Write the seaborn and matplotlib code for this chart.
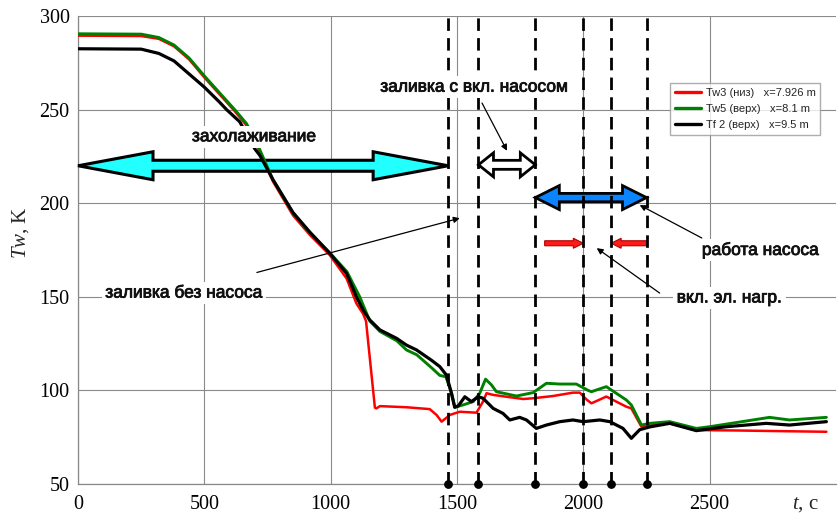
import numpy as np
import pandas as pd
import matplotlib
matplotlib.use("Agg")
import matplotlib.pyplot as plt
import matplotlib.patheffects as pe
import seaborn as sns
from matplotlib.patches import Polygon
from matplotlib.transforms import IdentityTransform
from matplotlib.lines import Line2D

# ---------------- data ----------------
t_tw3 = [0, 250, 320, 380, 440, 500, 560, 620, 667, 700, 720, 772, 851, 918, 997,
         1063, 1102, 1128, 1140, 1175, 1181, 1195, 1300, 1392, 1419, 1439, 1472,
         1511, 1577, 1603, 1617, 1643, 1696, 1762, 1801, 1880, 1959, 1986, 2012,
         2032, 2091, 2170, 2190, 2230, 2263, 2342, 2447, 2600, 2800, 2962]
tw3 = [289.5, 289.3, 287.8, 283.8, 276.8, 267.2, 258.2, 249.2, 241.5, 233.0, 227.5,
       211.5, 193.5, 183.0, 172.2, 159.8, 146.4, 141.0, 137.0, 90.8, 90.4, 91.6,
       91.0, 90.0, 86.9, 83.3, 86.9, 88.6, 88.1, 94.0, 98.5, 97.6, 96.6, 95.4,
       95.8, 97.0, 98.8, 98.8, 95.2, 93.1, 96.7, 91.3, 90.4, 80.6, 81.6, 82.4,
       78.8, 78.6, 78.2, 77.9]

t_tw5 = [0, 250, 320, 380, 440, 500, 560, 620, 667, 700, 720, 772, 851, 918, 997,
         1064, 1115, 1155, 1195, 1262, 1300, 1341, 1400, 1432, 1456, 1480, 1491,
         1523, 1564, 1590, 1613, 1636, 1656, 1735, 1801, 1854, 1907, 1972, 2019,
         2032, 2091, 2170, 2190, 2230, 2263, 2342, 2447, 2500, 2737, 2816, 2962]
tw5 = [290.5, 290.3, 288.5, 284.5, 277.5, 268.0, 259.0, 250.0, 242.5, 234.0, 228.4,
       212.4, 194.7, 184.0, 173.4, 163.5, 150.0, 137.0, 131.5, 126.5, 121.6, 119.0,
       112.0, 108.0, 107.3, 98.0, 91.0, 92.2, 94.0, 98.5, 106.0, 103.0, 99.3, 97.0,
       98.8, 103.8, 103.4, 103.4, 100.0, 99.3, 102.0, 94.9, 92.2, 81.5, 82.4, 83.3,
       79.7, 80.6, 85.6, 84.2, 85.6]

t_tf2 = [0, 250, 320, 380, 440, 500, 560, 588, 640, 700, 720, 772, 851, 918, 997,
         1063, 1102, 1128, 1155, 1195, 1261, 1300, 1340, 1400, 1432, 1458, 1475,
         1491, 1505, 1531, 1557, 1584, 1603, 1643, 1682, 1709, 1748, 1775, 1814,
         1854, 1907, 1959, 1999, 2065, 2105, 2157, 2190, 2223, 2263, 2342, 2447,
         2566, 2724, 2816, 2962]
tf2 = [282.5, 282.3, 280.0, 276.0, 269.0, 262.0, 254.0, 250.0, 243.5, 229.0, 225.5,
       212.5, 195.0, 184.5, 173.2, 162.5, 150.0, 143.0, 137.6, 132.3, 127.8, 124.2,
       121.6, 116.0, 112.7, 108.2, 100.0, 91.0, 91.7, 96.6, 94.0, 96.6, 95.8, 90.4,
       87.7, 84.2, 85.6, 84.2, 79.7, 81.5, 83.3, 84.2, 83.3, 84.2, 83.3, 79.7,
       74.4, 79.0, 80.5, 82.4, 78.5, 80.6, 82.4, 81.5, 83.3]

series_names = ["Tw3 (низ)   x=7.926 m", "Tw5 (верх)   x=8.1 m", "Tf 2 (верх)   x=9.5 m"]
series_colors = ["#ff0000", "#008000", "#000000"]
series_widths = [1.8, 2.1, 2.3]

# moments of regime changes, s
event_times = [1465, 1585, 1810, 2000, 2110, 2250]

x_ticks = [0, 500, 1000, 1500, 2000, 2500]
y_ticks = [50, 100, 150, 200, 250, 300]

# ---------------- style ----------------
sns.set_theme(style="white")
plt.rcParams["font.family"] = ["Liberation Sans", "DejaVu Sans"]
plt.rcParams["mathtext.fontset"] = "custom"
plt.rcParams["mathtext.it"] = "Liberation Serif:italic"
plt.rcParams["mathtext.rm"] = "Liberation Serif"

serif = ["Liberation Serif", "DejaVu Serif"]

fig = plt.figure(figsize=(8.38, 5.17), dpi=100)
ax = fig.add_axes([78 / 838, 1 - 484 / 517, 758 / 838, 468 / 517])
ax.set_xlim(0, 3000)
ax.set_ylim(50, 300)

frames = [
    pd.DataFrame({"t": t_tw3, "T": tw3}),
    pd.DataFrame({"t": t_tw5, "T": tw5}),
    pd.DataFrame({"t": t_tf2, "T": tf2}),
]
for df, c, w in zip(frames, series_colors, series_widths):
    sns.lineplot(data=df, x="t", y="T", color=c, linewidth=w, sort=False,
                 estimator=None, ax=ax, zorder=4)

# axes decoration
ax.set_xticks(x_ticks)
ax.set_yticks(y_ticks)
ax.set_xticks(np.arange(0, 3001, 100), minor=True)
ax.set_yticks(np.arange(50, 301, 10), minor=True)
ax.set_xticklabels([str(v) for v in x_ticks], fontfamily=serif, fontsize=14.5)
ax.set_yticklabels([str(v) for v in y_ticks], fontfamily=serif, fontsize=14.5)
ax.tick_params(which="both", direction="in", colors="#777777", labelcolor="black")
ax.tick_params(which="major", length=5, width=0.8)
ax.tick_params(which="minor", length=3, width=0.8)
ax.tick_params(axis="x", pad=8)
ax.tick_params(axis="y", pad=6)
ax.grid(True, which="major", color="#8a8a8a", linewidth=0.8)
ax.set_axisbelow(True)
for side in ["top", "right"]:
    ax.spines[side].set_visible(False)
for side in ["left", "bottom"]:
    ax.spines[side].set_color("#888888")
    ax.spines[side].set_linewidth(0.9)

ax.set_xlabel("")
ax.set_ylabel(r"$Tw$, K", fontfamily=serif, fontsize=15)
ax.yaxis.set_label_coords(-(78 - 31) / 758, (484 - 233) / 468)
fig.text(792 / 838, 1 - 509 / 517, r"$t$, c", fontfamily=serif, fontsize=15,
         ha="left", va="baseline")

# regime boundaries
for xv in event_times:
    ax.axvline(xv, color="black", linewidth=2.0, linestyle=(0, (4.5, 2.6)), zorder=5)
ax.scatter(event_times, [y_ticks[0]] * len(event_times), s=28, color="black",
           zorder=6, clip_on=False)


def block_arrow(x0, x1, y, head_len, head_half, body_half, fc,
                heads=(True, True), ec="black", lw=2.0, z=3):
    """Filled block arrow between two data x positions, sizes in pixels."""
    (px0, py), (px1, _) = ax.transData.transform([(x0, y), (x1, y)])
    d = 1 if px1 > px0 else -1
    pts = []
    if heads[0]:
        pts += [(px0, py), (px0 + d * head_len, py + head_half),
                (px0 + d * head_len, py + body_half)]
    else:
        pts += [(px0, py + body_half)]
    if heads[1]:
        pts += [(px1 - d * head_len, py + body_half), (px1 - d * head_len, py + head_half),
                (px1, py), (px1 - d * head_len, py - head_half),
                (px1 - d * head_len, py - body_half)]
    else:
        pts += [(px1, py + body_half), (px1, py - body_half)]
    if heads[0]:
        pts += [(px0 + d * head_len, py - body_half), (px0 + d * head_len, py - head_half)]
    else:
        pts += [(px0, py - body_half)]
    poly = Polygon(pts, closed=True, transform=IdentityTransform(), facecolor=fc,
                   edgecolor=ec, linewidth=lw, joinstyle="miter", zorder=z, clip_on=False)
    ax.add_artist(poly)


# cooling down
block_arrow(0, event_times[0], 220, 75, 14, 5.5, "#22ffff", lw=2.2)
# filling with pump on
block_arrow(event_times[1], event_times[2], 220.5, 15, 12, 4.5, "white", lw=2.0)
# pump operation
block_arrow(event_times[2], event_times[5], 203, 24, 12, 4.2, "#0a84ff", lw=2.0)
# electric heater switched on
block_arrow(1847, event_times[3], 178.6, 10, 5, 2.5, "#ff1a1a",
            heads=(False, True), ec="#b00000", lw=0.8)
block_arrow(2252, event_times[4], 178.6, 10, 5, 2.5, "#ff1a1a",
            heads=(False, True), ec="#b00000", lw=0.8)

label_kw = dict(fontsize=12.5, color="#111111", ha="center", va="center", zorder=8,
                bbox=dict(facecolor="white", edgecolor="none", pad=2.5),
                path_effects=[pe.withStroke(linewidth=0.6, foreground="#111111")])
arrow_kw = dict(arrowstyle="-|>", color="black", lw=0.9, mutation_scale=9,
                shrinkA=0, shrinkB=0)

ax.text(697, 235.5, "захолаживание", **label_kw)

ax.text(420, 152, "заливка без насоса", **label_kw)
ax.annotate("", xy=(1511, 192), xytext=(708, 163), arrowprops=arrow_kw, zorder=7)

ax.text(1570, 262, "заливка с вкл. насосом", **label_kw)
ax.annotate("", xy=(1698, 228), xytext=(1599, 253.5), arrowprops=arrow_kw, zorder=7)

ax.text(2702, 175, "работа насоса", **label_kw)
ax.annotate("", xy=(2223, 199), xytext=(2469, 181.4), arrowprops=arrow_kw, zorder=7)

ax.text(2579, 149.4, "вкл. эл. нагр.", **label_kw)
ax.annotate("", xy=(2053, 176), xytext=(2302, 152), arrowprops=arrow_kw, zorder=7)

# legend
handles = [Line2D([], [], color=c, linewidth=2.4) for c in series_colors]
leg = ax.legend(handles, series_names, loc="upper left",
                bbox_to_anchor=((670 - 78) / 758, 1 - (83 - 16) / 468),
                fontsize=8, frameon=True, fancybox=False, edgecolor="#999999",
                handlelength=2.3, handletextpad=0.45, borderaxespad=0,
                borderpad=0.45, labelspacing=0.55)
leg.get_frame().set_linewidth(1.0)
leg.set_zorder(9)

fig.savefig("out.png", dpi=100)
